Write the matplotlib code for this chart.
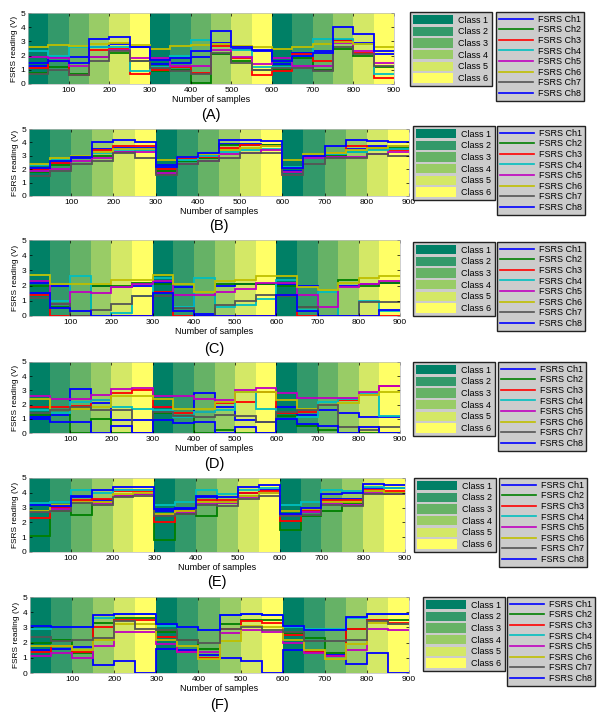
#recreate the FSRS readings figure (six panels, class shading + 8 channels)

import numpy as np
import matplotlib
matplotlib.use('Agg')
import matplotlib.pyplot as plt
from matplotlib.patches import Patch
from matplotlib.lines import Line2D

plt.rcParams['font.family'] = ['Liberation Sans', 'DejaVu Sans']

#segment edges (samples) and class of each 50-sample segment
edges = list(range(0, 901, 50))
seg_class = [1, 2, 3, 4, 5, 6] * 3

class_names = ['Class 1', 'Class 2', 'Class 3', 'Class 4', 'Class 5', 'Class 6']
channel_names = ['FSRS Ch1', 'FSRS Ch2', 'FSRS Ch3', 'FSRS Ch4',
                 'FSRS Ch5', 'FSRS Ch6', 'FSRS Ch7', 'FSRS Ch8']
panel_labels = ['(A)', '(B)', '(C)', '(D)', '(E)', '(F)']

#mean reading per segment, rows = Ch1..Ch8
A_levels = [
    [1.3, 1.9, 1.9, 2.6, 2.8, 2.6, 1.4, 1.5, 1.9, 2.9, 2.5, 2.3, 1.4, 2.2, 2.3, 3.1, 2.9, 2.1],
    [0.8, 1.2, 0.7, 1.9, 2.2, 1.6, 0.9, 1.0, 0.1, 2.1, 1.6, 1.0, 1.0, 1.8, 1.0, 2.5, 2.0, 1.2],
    [1.1, 1.6, 0.6, 2.4, 2.5, 0.7, 1.0, 1.2, 0.8, 2.7, 1.8, 0.6, 0.9, 2.1, 1.6, 3.0, 2.2, 0.4],
    [2.3, 2.0, 2.6, 2.6, 2.6, 0.9, 1.2, 2.0, 3.1, 2.8, 2.4, 1.2, 1.2, 2.0, 3.2, 3.2, 2.8, 0.7],
    [1.9, 1.8, 1.3, 1.9, 2.4, 1.8, 1.8, 1.3, 1.3, 2.4, 1.9, 1.4, 1.8, 1.3, 1.3, 2.9, 2.3, 1.5],
    [2.6, 2.75, 2.7, 2.8, 2.9, 2.75, 2.5, 2.65, 2.75, 2.85, 2.65, 2.6, 2.5, 2.6, 2.85, 2.95, 2.8, 2.6],
    [0.7, 1.0, 0.6, 1.6, 2.3, 1.6, 1.1, 0.9, 0.7, 2.2, 1.5, 1.0, 1.1, 1.1, 0.9, 2.6, 2.1, 1.3],
    [1.5, 1.6, 1.5, 3.2, 3.3, 2.6, 1.7, 1.8, 2.3, 3.7, 2.6, 2.4, 1.6, 2.0, 2.2, 4.0, 3.5, 2.3],
]
B_levels = [
    [2.0, 2.5, 2.8, 3.5, 3.6, 3.6, 2.3, 2.9, 3.0, 3.9, 3.9, 3.8, 1.9, 2.9, 3.1, 3.5, 3.7, 3.7],
    [1.8, 2.3, 2.9, 3.0, 3.3, 3.4, 1.9, 2.6, 2.8, 3.8, 3.8, 3.8, 1.8, 2.9, 3.0, 3.3, 3.6, 3.6],
    [2.0, 2.5, 3.0, 3.4, 3.7, 3.7, 2.0, 2.8, 2.9, 3.6, 3.8, 3.7, 2.1, 2.9, 3.2, 3.7, 3.5, 3.4],
    [2.3, 2.7, 3.0, 3.2, 3.4, 3.4, 2.2, 2.7, 3.0, 3.3, 3.4, 3.5, 2.2, 2.8, 3.1, 3.3, 3.4, 3.5],
    [1.9, 2.0, 2.6, 2.8, 3.3, 3.3, 1.7, 2.4, 2.6, 3.1, 3.2, 3.4, 1.8, 2.8, 2.9, 2.9, 3.1, 3.3],
    [2.4, 2.8, 3.0, 3.3, 3.5, 3.5, 2.7, 2.9, 3.1, 3.4, 3.6, 3.7, 2.7, 3.1, 3.2, 3.4, 3.6, 3.7],
    [1.5, 1.9, 2.4, 2.6, 3.2, 2.8, 1.6, 2.4, 2.6, 2.8, 3.2, 3.2, 1.6, 2.4, 2.8, 2.8, 3.1, 3.0],
    [2.1, 2.6, 2.9, 4.0, 4.2, 4.0, 2.2, 2.9, 3.2, 4.2, 4.2, 4.1, 2.1, 3.0, 3.7, 4.2, 4.1, 4.0],
]
C_levels = [
    [2.2, 2.0, 0.0, 2.0, 1.9, 2.0, 2.2, 1.9, 0.1, 2.0, 2.1, 2.1, 2.1, 2.0, 0.0, 2.0, 2.1, 2.2],
    [2.0, 0.6, 0.0, 2.0, 2.0, 2.2, 2.1, 0.5, 0.0, 2.1, 2.1, 2.1, 2.0, 0.6, 0.0, 2.4, 2.0, 2.2],
    [1.4, 0.0, 0.0, 0.0, 0.0, 0.0, 1.6, 0.0, 0.0, 0.0, 0.0, 0.0, 1.4, 0.0, 0.0, 0.0, 0.0, 0.0],
    [2.7, 1.0, 2.6, 0.0, 0.2, 1.3, 2.5, 0.6, 2.5, 0.6, 0.7, 1.1, 2.4, 0.4, 1.6, 0.0, 1.0, 0.3],
    [2.3, 0.8, 1.6, 1.5, 1.9, 2.1, 2.3, 1.4, 1.4, 1.6, 1.8, 2.2, 2.2, 1.4, 0.6, 1.9, 2.1, 2.3],
    [2.7, 2.1, 2.1, 2.1, 2.4, 2.4, 2.7, 2.1, 1.6, 2.3, 2.4, 2.6, 2.6, 1.9, 1.7, 2.2, 2.5, 2.6],
    [1.2, 0.8, 0.0, 0.4, 0.8, 1.3, 1.3, 0.5, 0.0, 0.7, 1.0, 1.4, 1.3, 0.6, 0.0, 0.0, 0.9, 0.9],
    [1.5, 0.5, 0.3, 0.0, 0.0, 0.0, 1.5, 0.3, 0.0, 0.0, 0.0, 0.0, 1.4, 0.3, 0.0, 0.0, 0.0, 0.4],
]
D_levels = [
    [1.1, 1.3, 3.1, 2.1, 0.9, 0.9, 1.8, 1.2, 2.8, 1.8, 0.9, 0.8, 1.8, 1.3, 1.6, 1.4, 1.1, 1.1],
    [1.3, 1.4, 0.0, 1.0, 0.0, 0.0, 1.4, 1.2, 0.0, 0.2, 0.0, 0.0, 1.2, 0.5, 0.2, 0.0, 0.0, 0.0],
    [1.8, 1.8, 1.9, 2.3, 2.8, 3.0, 1.8, 1.4, 1.5, 2.1, 2.2, 2.9, 1.4, 1.5, 2.0, 2.3, 2.7, 3.3],
    [1.6, 1.4, 2.2, 2.3, 1.8, 1.7, 1.6, 1.1, 1.5, 1.6, 2.9, 1.7, 1.0, 1.1, 2.2, 2.4, 2.8, 1.2],
    [2.6, 2.4, 2.4, 2.7, 3.1, 3.2, 2.6, 2.6, 2.4, 2.3, 3.0, 3.2, 2.8, 2.5, 2.5, 2.5, 2.9, 3.3],
    [2.4, 1.6, 1.7, 1.8, 2.6, 2.6, 2.4, 1.7, 1.7, 2.2, 2.9, 2.9, 2.3, 1.7, 2.0, 2.1, 2.7, 2.9],
    [1.4, 1.6, 1.8, 1.6, 1.6, 0.0, 1.5, 1.2, 1.1, 1.3, 1.2, 0.8, 1.5, 1.6, 2.0, 0.4, 0.2, 0.4],
    [1.0, 0.8, 0.8, 0.0, 0.5, 0.0, 0.9, 0.7, 0.8, 0.0, 0.4, 0.0, 1.0, 0.6, 0.5, 0.0, 0.4, 0.0],
]
E_levels = [
    [2.7, 3.0, 3.7, 3.5, 4.2, 4.2, 2.8, 2.9, 3.7, 3.4, 4.0, 4.2, 2.5, 2.9, 3.6, 3.6, 4.3, 4.3],
    [1.1, 2.8, 2.5, 3.4, 3.8, 3.9, 0.8, 2.6, 2.4, 3.3, 3.8, 4.0, 1.5, 2.4, 2.8, 3.3, 4.1, 4.0],
    [2.3, 3.0, 3.5, 3.6, 4.1, 4.1, 2.0, 2.8, 3.5, 3.5, 4.0, 4.1, 2.1, 2.8, 3.5, 3.5, 4.2, 4.1],
    [3.3, 3.4, 4.2, 4.0, 4.2, 4.2, 3.2, 3.4, 4.2, 3.9, 4.2, 4.3, 3.2, 3.4, 4.2, 4.1, 4.4, 4.3],
    [2.7, 2.9, 3.4, 3.3, 3.8, 3.9, 2.5, 2.7, 3.3, 3.3, 3.7, 4.0, 2.5, 2.7, 3.3, 3.2, 4.0, 3.9],
    [2.8, 3.2, 3.4, 3.4, 3.9, 4.0, 2.6, 2.8, 3.4, 3.4, 3.8, 4.0, 2.8, 2.9, 3.4, 3.4, 4.1, 4.0],
    [2.7, 2.8, 3.3, 3.2, 3.7, 3.8, 2.4, 2.6, 3.2, 3.1, 3.6, 3.8, 2.4, 2.5, 3.2, 3.1, 3.9, 3.9],
    [3.2, 3.1, 3.8, 4.2, 4.4, 4.4, 2.9, 3.0, 3.8, 3.7, 4.4, 4.5, 2.6, 3.0, 3.9, 4.0, 4.6, 4.5],
]
F_levels = [
    [1.5, 1.6, 1.7, 0.5, 0.8, 0.0, 1.6, 1.5, 1.2, 1.0, 0.8, 0.0, 1.5, 1.4, 1.2, 0.6, 1.3, 0.0],
    [2.0, 2.2, 1.3, 3.3, 3.6, 3.6, 2.7, 2.2, 1.6, 3.2, 3.5, 3.5, 2.6, 2.3, 1.3, 2.9, 3.5, 3.5],
    [1.4, 1.8, 1.4, 3.0, 3.5, 3.5, 2.4, 1.4, 1.0, 2.9, 3.4, 3.3, 2.5, 1.4, 1.1, 2.9, 3.5, 3.3],
    [2.9, 3.0, 3.0, 3.6, 3.9, 3.9, 3.1, 3.0, 2.8, 3.8, 3.9, 3.8, 3.0, 2.9, 2.9, 3.6, 3.9, 3.9],
    [1.1, 1.3, 1.0, 1.8, 2.7, 2.7, 1.9, 1.4, 1.4, 2.6, 2.8, 2.7, 2.0, 1.3, 1.1, 1.5, 2.9, 2.8],
    [1.8, 1.8, 1.5, 2.2, 3.2, 3.2, 2.2, 1.8, 0.9, 2.1, 3.1, 3.0, 2.2, 1.5, 0.9, 1.9, 3.3, 3.2],
    [2.4, 2.1, 2.2, 2.3, 3.4, 2.9, 2.8, 2.2, 2.0, 2.9, 3.0, 2.8, 2.7, 2.1, 2.1, 2.2, 3.4, 3.2],
    [3.1, 3.0, 3.0, 3.8, 3.9, 3.9, 3.2, 3.0, 2.8, 3.8, 3.9, 3.8, 3.1, 2.8, 2.8, 3.7, 3.9, 3.9],
]
all_levels = [A_levels, B_levels, C_levels, D_levels, E_levels, F_levels]

#colours: matlab 'summer' for classes, default-ish line colours for channels
class_colors = ['#008066', '#33996a', '#66b266', '#99cc66', '#d4e866', '#ffff66']
ch_colors = ['#0000ff', '#008000', '#ff0000', '#00bfbf', '#bf00bf', '#bfbf00', '#555555', '#0000ff']

#axes boxes in pixels: left, right, top, bottom
ax_px = [(28, 394, 13, 84), (29, 409, 129, 196), (29, 400, 240, 316),
         (29, 400, 362, 433), (29, 405, 478, 552), (30, 409, 597, 673)]
#legend top-left corners (class legend, channel legend) in pixels
leg_px = [((410, 12), (496, 12)), ((413, 126), (497, 126)), ((413, 242), (497, 242)),
          ((413, 362), (498, 362)), ((414, 478), (499, 478)), ((423, 597), (507, 597))]
label_y = [115, 226, 349, 464, 582, 705]

W, H = 600, 718
fig = plt.figure(figsize=(W / 100, H / 100), dpi=100)

for k in range(6):
    l, r, t, b = ax_px[k]
    ax = fig.add_axes([l / W, 1 - b / H, (r - l) / W, (b - t) / H])
    for i in range(len(seg_class)):
        ax.axvspan(edges[i], edges[i + 1], color=class_colors[seg_class[i] - 1], lw=0)
    for c in range(8):
        ax.stairs(all_levels[k][c], edges, baseline=None, color=ch_colors[c], lw=1.3)
    ax.set_xlim(0, 900)
    ax.set_ylim(0, 5)
    ax.set_xticks([100, 200, 300, 400, 500, 600, 700, 800, 900])
    ax.set_yticks([0, 1, 2, 3, 4, 5])
    ax.tick_params(labelsize=6, length=2, width=0.5, direction='in', pad=2,
                   top=True, right=True)
    for s in ax.spines.values():
        s.set_color('#bbbbbb')
        s.set_linewidth(0.5)
    ax.set_xlabel('Number of samples', fontsize=6.5, labelpad=1)
    ax.set_ylabel('FSRS reading (V)', fontsize=6, labelpad=2)

    fig.text((l + r) / 2 / W, 1 - label_y[k] / H, panel_labels[k], fontsize=10.5,
             ha='center', va='center')

    (cx, cy), (lx, ly) = leg_px[k]
    h1 = [Patch(facecolor=class_colors[i], edgecolor='none') for i in range(6)]
    leg1 = fig.legend(h1, class_names, loc='upper left', bbox_to_anchor=(cx / W, 1 - cy / H),
                      fontsize=6.5, handlelength=4.4, handleheight=1.2, labelspacing=0.22,
                      borderpad=0.35, handletextpad=0.6, borderaxespad=0,
                      fancybox=False, framealpha=1, facecolor='#cccccc', edgecolor='#222222')
    leg1.get_frame().set_linewidth(1.0)
    h2 = [Line2D([0], [0], color=ch_colors[i], lw=1.2) for i in range(8)]
    leg2 = fig.legend(h2, channel_names, loc='upper left', bbox_to_anchor=(lx / W, 1 - ly / H),
                      fontsize=6.5, handlelength=3.8, labelspacing=0.18,
                      borderpad=0.3, handletextpad=0.6, borderaxespad=0,
                      fancybox=False, framealpha=1, facecolor='#cccccc', edgecolor='#222222')
    leg2.get_frame().set_linewidth(1.0)

fig.savefig('out.png', dpi=100)
